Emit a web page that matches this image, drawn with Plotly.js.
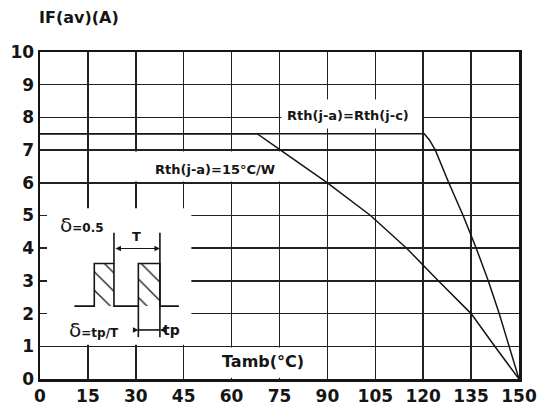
<!DOCTYPE html>
<html>
<head>
<meta charset="utf-8">
<script src="https://cdn.plot.ly/plotly-3.0.1.min.js"></script>
<style>html,body{margin:0;padding:0;background:#fff;}#chart{width:550px;height:412px;}</style>
</head>
<body>
<div id="chart"></div>
<script>
// ---- data ----
const xTicks = [0, 15, 30, 45, 60, 75, 90, 105, 120, 135, 150];
const yTicks = [0, 1, 2, 3, 4, 5, 6, 7, 8, 9, 10];

// Rth(j-a) = 15 °C/W
const tambRthJA = [0, 68, 75, 90, 103.5, 114.8, 124.8, 135, 142.4, 150];
const ifRthJA   = [7.5, 7.5, 7.02, 6.0, 5.0, 4.0, 3.0, 2.0, 1.0, 0];

// Rth(j-a) = Rth(j-c)
const tambRthJC = [0, 120.3, 121.9, 123.8, 128.0, 132.5, 136.6, 140.4, 143.8, 147.0, 150];
const ifRthJC   = [7.5, 7.5, 7.32, 7.0, 6.0, 5.0, 4.0, 3.0, 2.0, 1.0, 0];

// inset pulse diagram (delta = tp/T = 0.5)
const pulseLevelLow = 2.23, pulseLevelHigh = 3.53;
const pulseStarts = [17.0, 30.8];
const pulseEnds   = [23.16, 37.55];
const baseStart = 10.75, baseEnd = 43.5;

const F = 'DejaVu Sans';
const ink = '#151515';

// outline of the pulse train
const ox = [baseStart], oy = [pulseLevelLow];
pulseStarts.forEach((s, i) => {
  ox.push(s, s, pulseEnds[i], pulseEnds[i]);
  oy.push(pulseLevelLow, pulseLevelHigh, pulseLevelHigh, pulseLevelLow);
});
ox.push(baseEnd); oy.push(pulseLevelLow);
// dimension lines
ox.push(null, pulseEnds[0], pulseEnds[0], null, pulseEnds[1], pulseEnds[1], null, pulseStarts[1], pulseStarts[1], null, pulseStarts[1], pulseEnds[1]);
oy.push(null, pulseLevelHigh, 4.47, null, 4.47, 1.28, null, pulseLevelLow, 1.28, null, 1.5, 1.5);

const traces = [];
pulseStarts.forEach((s, i) => {
  const e = pulseEnds[i];
  traces.push({
    x: [s, e, e, s, s], y: [pulseLevelLow, pulseLevelLow, pulseLevelHigh, pulseLevelHigh, pulseLevelLow],
    mode: 'lines', fill: 'toself', line: {width: 0, color: ink}, fillcolor: 'white',
    fillpattern: {shape: '\\', fgcolor: ink, bgcolor: 'white', size: 13, solidity: 0.1},
    hoverinfo: 'skip', showlegend: false
  });
});
traces.push({x: ox, y: oy, mode: 'lines', line: {color: ink, width: 1.6}, hoverinfo: 'skip', showlegend: false, connectgaps: false});
traces.push({x: tambRthJA, y: ifRthJA, mode: 'lines', line: {color: ink, width: 1.5}, showlegend: false, name: 'Rth(j-a)=15°C/W'});
traces.push({x: tambRthJC, y: ifRthJC, mode: 'lines', line: {color: ink, width: 1.5}, showlegend: false, name: 'Rth(j-a)=Rth(j-c)'});

const whiteBox = (x0, x1, y0, y1) => ({type: 'rect', xref: 'x', yref: 'y', x0, x1, y0, y1, fillcolor: 'white', line: {width: 0}, layer: 'between'});

const txt = (x, y, text, size, extra) => Object.assign({
  x, y, xref: 'x', yref: 'y', text, showarrow: false,
  font: {family: F, size, color: ink, weight: 'bold'}
}, extra || {});

const arrow = (x, y, ax, ay, side) => ({
  x, y, ax, ay, xref: 'x', yref: 'y', axref: 'x', ayref: 'y', text: '',
  showarrow: true, arrowhead: 2, arrowsize: 1, arrowwidth: 1.1, arrowcolor: ink, arrowside: side || 'end'
});

const layout = {
  width: 550, height: 412,
  margin: {l: 40, r: 31, t: 52, b: 33},
  paper_bgcolor: 'white', plot_bgcolor: 'white',
  title: {
    text: 'IF(av)(A)', xref: 'container', yref: 'container',
    x: 39 / 550, xanchor: 'left', y: 1 - 17 / 412, yanchor: 'middle',
    font: {family: F, size: 16, color: ink, weight: 'bold'}
  },
  xaxis: {
    range: [0, 150], tickvals: xTicks, ticktext: xTicks.map(String),
    showgrid: true, gridcolor: '#222', gridwidth: 1.5, zeroline: false,
    showline: true, mirror: true, linecolor: ink, linewidth: 2.5, ticks: '',
    tickfont: {family: F, size: 17, color: ink, weight: 'bold'}, fixedrange: true
  },
  yaxis: {
    range: [0, 10], tickvals: yTicks, ticktext: yTicks.map(String),
    showgrid: true, gridcolor: '#222', gridwidth: 1.5, zeroline: false,
    showline: true, mirror: true, linecolor: ink, linewidth: 2.5, ticks: '',
    tickfont: {family: F, size: 17, color: ink, weight: 'bold'}, fixedrange: true
  },
  shapes: [
    whiteBox(2.2, 47.4, 1.05, 5.22),
    whiteBox(29.5, 75.6, 6.04, 6.96),
    whiteBox(75.6, 119.6, 7.66, 8.55),
    whiteBox(50, 86, 0.04, 0.96)
  ],
  annotations: [
    txt(54.7, 6.41, 'Rth(j-a)=15°C/W', 13),
    txt(96.3, 8.07, 'Rth(j-a)=Rth(j-c)', 13),
    txt(69.9, 0.53, 'Tamb(°C)', 16),
    txt(30.3, 4.37, 'T', 13),
    txt(13, 4.72, '<span style="font-size:20px;font-weight:normal">δ</span>=0.5', 12),
    txt(17, 1.5, '<span style="font-size:20px;font-weight:normal">δ</span>=tp/T', 12),
    txt(41.3, 1.5, 'tp', 14),
    arrow(pulseEnds[1], 3.99, pulseEnds[0], 3.99, 'end+start'),
    arrow(pulseStarts[1], 1.5, 29.0, 1.5),
    arrow(pulseEnds[1], 1.5, 39.3, 1.5)
  ]
};

Plotly.newPlot('chart', traces, layout, {displayModeBar: false, staticPlot: true});
</script>
</body>
</html>
